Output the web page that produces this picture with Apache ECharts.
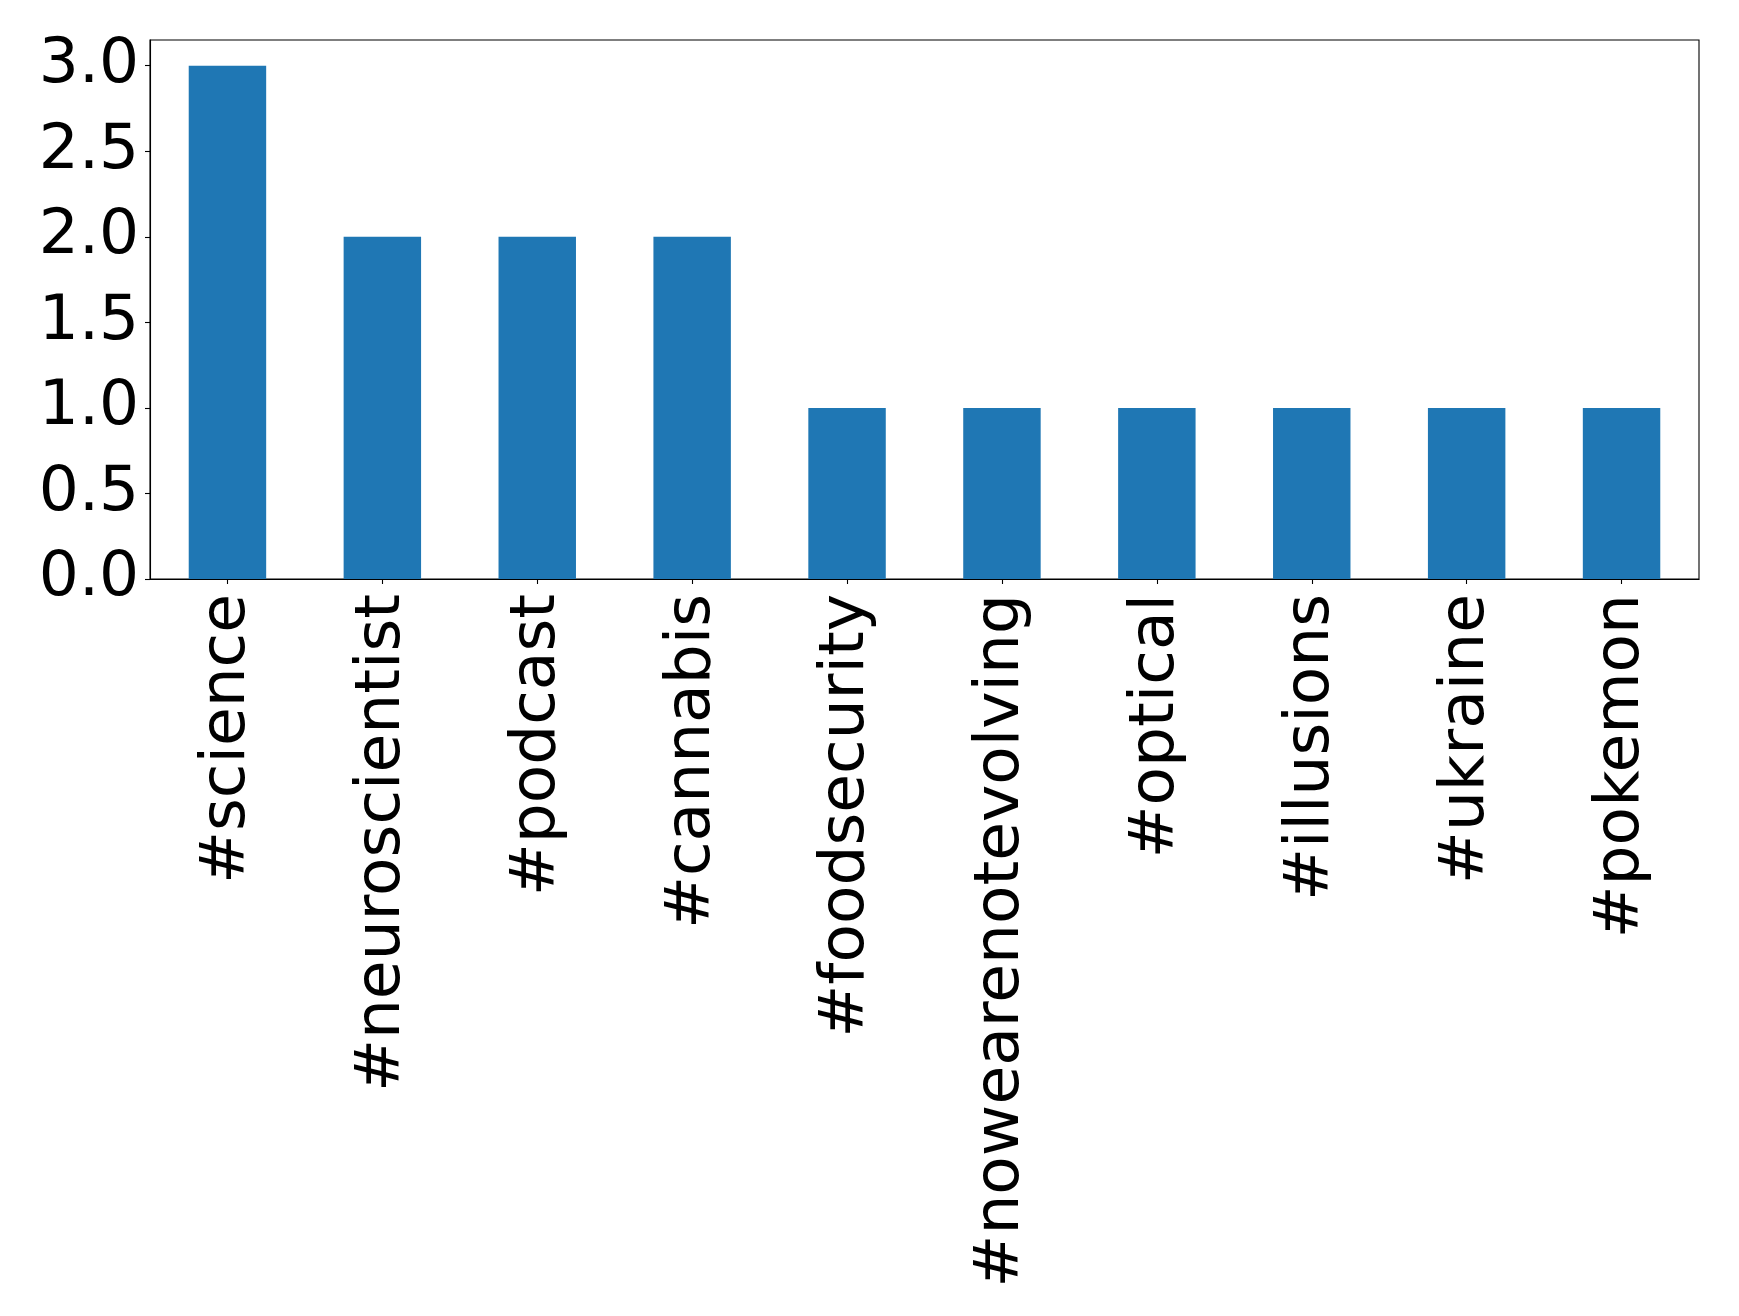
<!DOCTYPE html>
<html>
<head>
<meta charset="utf-8">
<script src="https://cdn.jsdelivr.net/npm/echarts@6/dist/echarts.min.js"></script>
<style>
html,body{margin:0;padding:0;background:#fff;}
#chart{width:1739px;height:1316px;}
</style>
</head>
<body>
<div id="chart"></div>
<script>
const categories = ['#science','#neuroscientist','#podcast','#cannabis','#foodsecurity','#nowearenotevolving','#optical','#illusions','#ukraine','#pokemon'];
const counts = [3, 2, 2, 2, 1, 1, 1, 1, 1, 1];
const yTicks = [0, 0.5, 1.0, 1.5, 2.0, 2.5, 3.0];

const chart = echarts.init(document.getElementById('chart'), null, {renderer: 'canvas'});
const font = 'DejaVu Sans';
chart.setOption({
  animation: false,
  backgroundColor: '#ffffff',
  grid: {
    left: 150, right: 40, top: 40, bottom: 737,
    show: true, borderColor: '#000', borderWidth: 1.1, backgroundColor: 'transparent'
  },
  xAxis: {
    type: 'category',
    data: categories,
    axisLine: {show: true, lineStyle: {color: '#000', width: 1.1}},
    axisTick: {show: true, alignWithLabel: true, length: 5, lineStyle: {color: '#000', width: 1.1}},
    axisLabel: {rotate: 90, margin: 15, fontSize: 63, fontFamily: font, color: '#000', interval: 0, padding: [10, 0, 0, 0]}
  },
  yAxis: {
    type: 'value',
    min: 0, max: 3.15,
    splitLine: {show: false},
    axisLine: {show: true, lineStyle: {color: '#000', width: 1.1}},
    axisTick: {show: true, length: 5, customValues: yTicks, lineStyle: {color: '#000', width: 1.1}},
    axisLabel: {
      customValues: yTicks, margin: 11, fontSize: 63, fontFamily: font, color: '#000',
      formatter: v => v.toFixed(1)
    }
  },
  series: [{
    type: 'bar',
    data: counts,
    barWidth: '50%',
    itemStyle: {color: '#1f77b4'}
  }]
});
</script>
</body>
</html>
